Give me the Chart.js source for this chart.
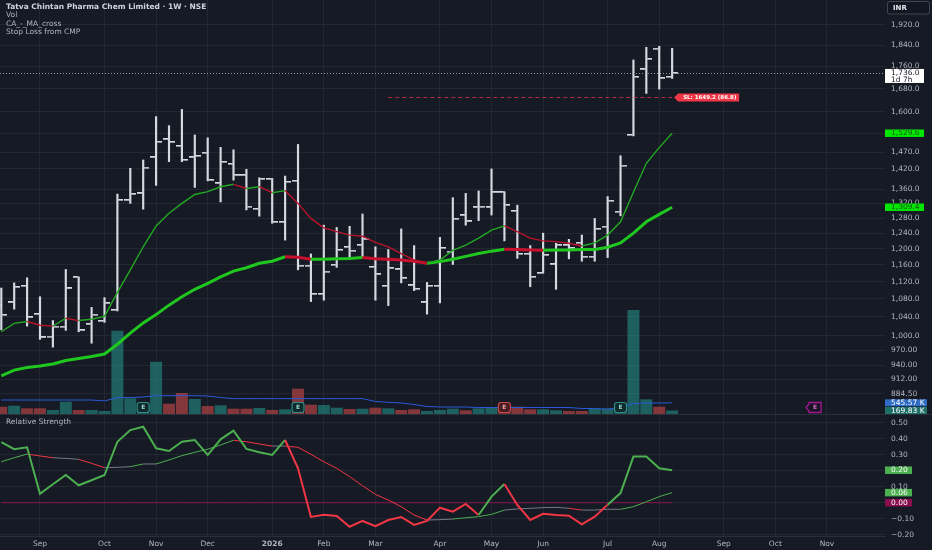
<!DOCTYPE html>
<html>
<head>
<meta charset="utf-8">
<script src="https://cdn.jsdelivr.net/npm/chart.js@4.4.1/dist/chart.umd.min.js"></script>
<style>
  html, body { margin: 0; padding: 0; background: #161a25; }
  #wrap { position: relative; width: 932px; height: 550px; overflow: hidden; background: #161a25; }
  canvas { position: absolute; left: 0; }
  #priceCanvas { top: 0; width: 932px; height: 415px; }
  #rsCanvas { top: 415px; width: 932px; height: 135px; }
  .legend { position: absolute; left: 6px; font: 7.5px "DejaVu Sans", sans-serif; color: #b2b5be; line-height: 8.3px; white-space: nowrap; }
  .legend .title { color: #d1d4dc; font-weight: bold; }
</style>
</head>
<body>
<div id="wrap">
  <canvas id="priceCanvas" width="932" height="415"></canvas>
  <canvas id="rsCanvas" width="932" height="135"></canvas>
  <div class="legend" style="top:3px">
    <div class="title">Tatva Chintan Pharma Chem Limited · 1W · NSE</div>
    <div>Vol</div>
    <div>CA_-_MA_cross</div>
    <div>Stop Loss from CMP</div>
  </div>
  <div class="legend" style="top:418px">Relative Strength</div>
</div>
<script>
// weekly bars, index 0 = week of 11 Aug 2025
const monthTickIndex = [3, 8, 12, 16, 21, 25, 29, 34, 38, 42, 47, 51, 56, 60, 64];
const monthTickText = ["Sep", "Oct", "Nov", "Dec", "2026", "Feb", "Mar", "Apr", "May", "Jun", "Jul", "Aug", "Sep", "Oct", "Nov"];

const priceOpen = [1066, 1072, 1110, 1046, 998, 1019, 1130, 1024, 1031, 1055, 1329, 1348, 1454, 1510, 1489, 1454, 1468, 1377, 1434, 1400, 1305, 1389, 1269, 1384, 1158, 1091, 1160, 1204, 1209, 1155, 1110, 1149, 1111, 1072, 1110, 1193, 1287, 1309, 1309, 1351, 1299, 1187, 1140, 1161, 1209, 1215, 1180, 1257, 1297, 1524, 1749, 1827, 1722];
const priceHigh = [1105, 1117, 1129, 1085, 1032, 1149, 1131, 1061, 1083, 1346, 1421, 1446, 1584, 1554, 1608, 1524, 1515, 1485, 1477, 1418, 1393, 1391, 1398, 1494, 1187, 1261, 1255, 1258, 1291, 1205, 1198, 1251, 1208, 1118, 1229, 1336, 1348, 1355, 1419, 1353, 1315, 1208, 1240, 1214, 1224, 1235, 1279, 1339, 1459, 1784, 1832, 1836, 1828];
const priceLow = [1012, 1057, 1020, 992, 976, 1011, 1008, 984, 1028, 1053, 1320, 1304, 1371, 1441, 1441, 1365, 1384, 1324, 1386, 1302, 1285, 1266, 1222, 1148, 1074, 1077, 1154, 1174, 1180, 1077, 1065, 1117, 1099, 1046, 1071, 1161, 1261, 1273, 1288, 1220, 1176, 1108, 1140, 1102, 1175, 1169, 1169, 1178, 1286, 1521, 1663, 1678, 1716];
const priceClose = [1044, 1107, 1039, 996, 1019, 1104, 1011, 1045, 1070, 1329, 1346, 1423, 1502, 1501, 1446, 1458, 1386, 1440, 1400, 1311, 1389, 1269, 1381, 1158, 1091, 1144, 1197, 1195, 1224, 1137, 1152, 1128, 1103, 1110, 1202, 1278, 1271, 1311, 1351, 1315, 1187, 1131, 1184, 1209, 1201, 1180, 1251, 1327, 1429, 1722, 1787, 1717, 1736];

// volume in thousands
const volumeK = [356, 405, 278, 278, 195, 600, 195, 195, 146, 4065, 766, 440, 2552, 503, 1025, 732, 390, 425, 259, 259, 293, 195, 229, 1235, 454, 439, 307, 244, 259, 307, 278, 195, 229, 146, 195, 259, 180, 278, 307, 464, 356, 229, 229, 180, 146, 146, 259, 278, 330, 5075, 717, 356, 169.83];
const volumeMaK = [683, 683, 683, 683, 683, 683, 683, 683, 640, 795, 805, 830, 893, 893, 893, 893, 878, 805, 750, 750, 750, 750, 750, 750, 750, 750, 750, 750, 750, 610, 571, 537, 464, 366, 342, 342, 342, 317, 317, 317, 317, 317, 317, 317, 317, 268, 268, 229, 342, 512, 537, 537, 545.57];

const fastMa = [1008, 1026, 1030, 1022, 1020, 1037, 1032, 1035, 1041, 1095, 1148, 1205, 1259, 1293, 1320, 1345, 1353, 1367, 1374, 1362, 1367, 1350, 1356, 1320, 1279, 1254, 1244, 1235, 1232, 1216, 1205, 1188, 1172, 1164, 1172, 1196, 1209, 1227, 1248, 1259, 1244, 1227, 1220, 1218, 1214, 1207, 1215, 1235, 1270, 1351, 1436, 1484, 1529.6];
const slowMa = [919, 930, 935, 938, 942, 949, 953, 957, 962, 982, 1005, 1027, 1045, 1066, 1085, 1102, 1116, 1131, 1145, 1153, 1164, 1169, 1180, 1179, 1174, 1174, 1175, 1176, 1178, 1175, 1174, 1172, 1169, 1164, 1168, 1174, 1181, 1188, 1194, 1199, 1198, 1197, 1196, 1197, 1197, 1198, 1198, 1204, 1215, 1240, 1270, 1290, 1309.4];

const rsValue = [0.378, 0.334, 0.346, 0.056, 0.115, 0.173, 0.109, 0.140, 0.173, 0.381, 0.454, 0.475, 0.340, 0.323, 0.381, 0.392, 0.298, 0.396, 0.450, 0.336, 0.315, 0.298, 0.392, 0.215, -0.089, -0.075, -0.083, -0.150, -0.114, -0.146, -0.108, -0.089, -0.139, -0.114, -0.031, -0.056, -0.008, -0.077, 0.038, 0.117, -0.014, -0.108, -0.069, -0.077, -0.081, -0.135, -0.087, -0.012, 0.060, 0.288, 0.288, 0.215, 0.203];
const rsSignal = [0.256, 0.281, 0.304, 0.292, 0.281, 0.277, 0.271, 0.246, 0.219, 0.221, 0.225, 0.242, 0.242, 0.267, 0.294, 0.315, 0.334, 0.361, 0.390, 0.381, 0.367, 0.354, 0.354, 0.346, 0.303, 0.256, 0.215, 0.163, 0.106, 0.052, 0.017, -0.025, -0.077, -0.108, -0.106, -0.102, -0.094, -0.087, -0.073, -0.046, -0.039, -0.035, -0.031, -0.029, -0.035, -0.046, -0.046, -0.041, -0.041, -0.025, 0.006, 0.038, 0.063];
const rsGreenSpans = [[0, 22], [37, 39], [47, 52]];

const priceTicks = [884.5, 912, 940, 970, 1000, 1040, 1080, 1120, 1160, 1200, 1240, 1280, 1320, 1360, 1420, 1470, 1530, 1600, 1680, 1760, 1840, 1920];
const rsTicks = [-0.2, -0.1, 0, 0.1, 0.2, 0.3, 0.4, 0.5];

const stopLoss = 1649.2;
const stopLossFrom = 30;
const earningsBars = [11, 23, 39, 48];
const earningsDown = [false, false, true, false];
const nextEarnings = 63;
const timeLeft = "1d 7h";

// ---- styles ----
const FONT = "'DejaVu Sans', sans-serif";
const textColor = "#b2b5be";
const gridColor = "rgba(42,46,57,0.65)";
const barColor = "#d6d9e0";
const xMin = -0.1;
const xMax = 68.5;
const axisWidth = 47;

const last = priceClose.length - 1;

function fmtPrice(v) {
  if (v >= 1000) {
    return v.toLocaleString("en-US", { minimumFractionDigits: 1, maximumFractionDigits: 1 });
  }
  return v.toFixed(2);
}
function fmtRs(v) {
  const s = Math.abs(v).toFixed(2);
  return v < -0.0001 ? "\u2212" + s : s;
}

// small tick images for open (left) and close (right)
function tickImage(side) {
  const c = document.createElement("canvas");
  c.width = 12;
  c.height = 2;
  const g = c.getContext("2d");
  g.fillStyle = barColor;
  if (side === "open") g.fillRect(0, 0, 5.3, 1.6);
  else g.fillRect(6.7, 0, 5.3, 1.6);
  return c;
}

function label(ctx, x, yc, w, h, bg, fg, text) {
  ctx.fillStyle = bg;
  ctx.fillRect(x, yc - h / 2, w, h);
  ctx.fillStyle = fg;
  ctx.textBaseline = "middle";
  ctx.textAlign = "left";
  ctx.fillText(text, x + 6, yc + 0.3);
}

function roundRect(ctx, x, y, w, h, r) {
  ctx.beginPath();
  ctx.moveTo(x + r, y);
  ctx.lineTo(x + w - r, y);
  ctx.quadraticCurveTo(x + w, y, x + w, y + r);
  ctx.lineTo(x + w, y + h - r);
  ctx.quadraticCurveTo(x + w, y + h, x + w - r, y + h);
  ctx.lineTo(x + r, y + h);
  ctx.quadraticCurveTo(x, y + h, x, y + h - r);
  ctx.lineTo(x, y + r);
  ctx.quadraticCurveTo(x, y, x + r, y);
  ctx.closePath();
}

const monthGrid = (s) => {
  s.ticks = monthTickIndex.map((v) => ({ value: v }));
};
// keep the plot area flush with the pane edges
const noPad = (s) => {
  s.paddingTop = 0;
  s.paddingBottom = 0;
  s.paddingLeft = 0;
  s.paddingRight = 0;
};

// ---- overlay for the price pane ----
const priceOverlay = {
  id: "priceOverlay",
  afterDatasetsDraw(chart) {
    const { ctx, chartArea: a, scales } = chart;
    const x = scales.x;
    const y = scales.price;
    ctx.save();

    // dotted line at last close
    const yc = Math.round(y.getPixelForValue(priceClose[last])) + 0.5;
    ctx.strokeStyle = "rgba(190,193,200,0.75)";
    ctx.lineWidth = 1;
    ctx.setLineDash([1, 2]);
    ctx.beginPath();
    ctx.moveTo(a.left, yc);
    ctx.lineTo(a.right, yc);
    ctx.stroke();

    // stop loss dashed line
    const ys = Math.round(y.getPixelForValue(stopLoss)) + 0.5;
    ctx.strokeStyle = "rgba(242,54,69,0.7)";
    ctx.setLineDash([4, 3]);
    ctx.beginPath();
    ctx.moveTo(x.getPixelForValue(stopLossFrom), ys);
    ctx.lineTo(x.getPixelForValue(last), ys);
    ctx.stroke();
    ctx.setLineDash([]);

    // stop loss tag
    const tx = x.getPixelForValue(last) + 2;
    ctx.fillStyle = "#f23645";
    ctx.beginPath();
    ctx.moveTo(tx, ys);
    ctx.lineTo(tx + 4, ys - 4);
    ctx.lineTo(tx + 65, ys - 4);
    ctx.lineTo(tx + 65, ys + 4);
    ctx.lineTo(tx + 4, ys + 4);
    ctx.closePath();
    ctx.fill();
    ctx.fillStyle = "#ffffff";
    ctx.font = "bold 5.5px " + FONT;
    ctx.textBaseline = "middle";
    ctx.fillText("SL: " + stopLoss.toFixed(1) + " (" + (priceClose[last] - stopLoss).toFixed(1) + ")", tx + 9, ys + 0.3);

    // earnings badges
    ctx.font = "bold 6px " + FONT;
    ctx.textAlign = "center";
    earningsBars.forEach((b, i) => {
      const cx = x.getPixelForValue(b);
      const edge = earningsDown[i] ? "#c9464b" : "#2d8f86";
      const fill = earningsDown[i] ? "#4a1d22" : "#102a2b";
      roundRect(ctx, cx - 6, 402.5, 12, 10, 2.5);
      ctx.fillStyle = fill;
      ctx.fill();
      ctx.strokeStyle = edge;
      ctx.lineWidth = 1.2;
      ctx.stroke();
      ctx.fillStyle = earningsDown[i] ? "#e8a0a3" : "#8fd3cb";
      ctx.fillText("E", cx, 407.8);
    });
    const ex = x.getPixelForValue(nextEarnings);
    ctx.beginPath();
    ctx.moveTo(ex - 8, 407.5);
    ctx.lineTo(ex - 5, 404);
    ctx.lineTo(ex - 5, 402.5);
    ctx.lineTo(ex + 7, 402.5);
    ctx.lineTo(ex + 7, 412.5);
    ctx.lineTo(ex - 5, 412.5);
    ctx.lineTo(ex - 5, 411);
    ctx.closePath();
    ctx.fillStyle = "#1c1426";
    ctx.fill();
    ctx.strokeStyle = "#a3188f";
    ctx.lineWidth = 1.3;
    ctx.stroke();
    ctx.fillStyle = "#d36ac2";
    ctx.fillText("E", ex + 1, 407.8);
    ctx.restore();
  },
  afterDraw(chart) {
    const { ctx, chartArea: a, scales } = chart;
    const y = scales.price;
    const v = scales.vol;
    const ax = a.right;
    ctx.save();
    ctx.font = "7.5px " + FONT;

    // pane separator
    ctx.fillStyle = "#2a2e39";
    ctx.fillRect(0, 414, chart.width, 1);

    // currency box
    roundRect(ctx, ax + 2.5, 1.5, 42, 12.5, 2);
    ctx.fillStyle = "#131722";
    ctx.fill();
    ctx.strokeStyle = "#434651";
    ctx.lineWidth = 1;
    ctx.stroke();
    ctx.fillStyle = "#e6e8ee";
    ctx.font = "bold 7px " + FONT;
    ctx.textBaseline = "middle";
    ctx.fillText("INR", ax + 8, 8);
    ctx.font = "7.5px " + FONT;

    // last price + countdown
    const yc = y.getPixelForValue(priceClose[last]);
    ctx.fillStyle = "#ffffff";
    ctx.fillRect(ax, yc - 4, 39, 14);
    ctx.fillStyle = "#131722";
    ctx.fillText(fmtPrice(priceClose[last]), ax + 6, yc + 0.3);
    ctx.fillText(timeLeft, ax + 6, yc + 6.8);

    // moving average values
    label(ctx, ax, y.getPixelForValue(fastMa[last]), 39, 7.5, "#00e600", "#175a17", fmtPrice(fastMa[last]));
    label(ctx, ax, y.getPixelForValue(slowMa[last]), 39, 7.5, "#00e600", "#175a17", fmtPrice(slowMa[last]));

    // volume values
    label(ctx, ax, v.getPixelForValue(volumeMaK[last]), 42, 7, "#2f6cc4", "#ffffff", volumeMaK[last].toFixed(2) + " K");
    label(ctx, ax, v.getPixelForValue(volumeK[last]), 42, 7, "#1f6f69", "#ffffff", volumeK[last].toFixed(2) + " K");
    ctx.restore();
  },
};

const rsOverlay = {
  id: "rsOverlay",
  afterDraw(chart) {
    const { ctx, chartArea: a, scales } = chart;
    const y = scales.y;
    ctx.save();
    ctx.font = "7.5px " + FONT;
    label(ctx, a.right, y.getPixelForValue(rsValue[last]), 27, 7.5, "#4caf50", "#ffffff", fmtRs(rsValue[last]));
    label(ctx, a.right, y.getPixelForValue(rsSignal[last]), 27, 7.5, "#4caf50", "#ffffff", fmtRs(rsSignal[last]));
    label(ctx, a.right, y.getPixelForValue(0), 27, 7.5, "#880e4f", "#ffffff", fmtRs(0));
    ctx.restore();
  },
};

// ---- price pane ----
const idx = priceClose.map((_, i) => i);
const upDown = idx.map((i) => priceClose[i] >= priceOpen[i]);

new Chart(document.getElementById("priceCanvas"), {
  type: "bar",
  data: {
    datasets: [
      {
        type: "line",
        label: "MA fast",
        data: idx.map((i) => ({ x: i, y: fastMa[i] })),
        yAxisID: "price",
        borderWidth: 1.4,
        pointRadius: 0,
        segment: { borderColor: (c) => (c.p1.parsed.y < c.p0.parsed.y ? "#b8142a" : "#22a822") },
        order: 1,
      },
      {
        type: "line",
        label: "MA slow",
        data: idx.map((i) => ({ x: i, y: slowMa[i] })),
        yAxisID: "price",
        borderWidth: 3,
        pointRadius: 0,
        segment: { borderColor: (c) => (c.p1.parsed.y < c.p0.parsed.y ? "#c8102e" : "#1fc71f") },
        order: 2,
      },
      {
        type: "line",
        label: "Close",
        data: idx.map((i) => ({ x: i, y: priceClose[i] })),
        yAxisID: "price",
        showLine: false,
        pointStyle: tickImage("close"),
        pointRadius: 3,
        order: 3,
      },
      {
        type: "line",
        label: "Open",
        data: idx.map((i) => ({ x: i, y: priceOpen[i] })),
        yAxisID: "price",
        showLine: false,
        pointStyle: tickImage("open"),
        pointRadius: 3,
        order: 4,
      },
      {
        type: "bar",
        label: "High-Low",
        data: idx.map((i) => ({ x: i, y: [priceLow[i], priceHigh[i]] })),
        yAxisID: "price",
        backgroundColor: barColor,
        barThickness: 1.5,
        grouped: false,
        order: 5,
      },
      {
        type: "line",
        label: "Vol MA",
        data: idx.map((i) => ({ x: i, y: volumeMaK[i] })),
        yAxisID: "vol",
        borderColor: "#2a5bd7",
        borderWidth: 1,
        pointRadius: 0,
        order: 6,
      },
      {
        type: "bar",
        label: "Vol",
        data: idx.map((i) => ({ x: i, y: volumeK[i] })),
        yAxisID: "vol",
        backgroundColor: upDown.map((u) => (u ? "rgba(38,166,154,0.5)" : "rgba(239,83,80,0.5)")),
        categoryPercentage: 1,
        barPercentage: 0.93,
        grouped: false,
        order: 7,
      },
    ],
  },
  options: {
    responsive: false,
    animation: false,
    events: [],
    layout: { padding: 0, autoPadding: false },
    plugins: { legend: { display: false }, tooltip: { enabled: false } },
    scales: {
      x: {
        type: "linear",
        min: xMin,
        max: xMax,
        offset: false,
        afterBuildTicks: monthGrid,
        afterFit: (s) => { s.height = 1; noPad(s); },
        ticks: { display: false },
        grid: { color: gridColor, drawTicks: false, offset: false },
        border: { display: false },
      },
      price: {
        type: "logarithmic",
        position: "right",
        bounds: "data",
        min: 848.1,
        max: 2023.5,
        afterBuildTicks: (s) => { s.ticks = priceTicks.map((v) => ({ value: v })); },
        afterFit: (s) => { s.width = axisWidth; noPad(s); },
        ticks: { callback: (v) => fmtPrice(v), color: textColor, font: { family: FONT, size: 7.5 }, padding: 6, autoSkip: false },
        grid: { color: gridColor, drawTicks: false },
        border: { display: false },
      },
      vol: {
        type: "linear",
        display: false,
        min: 0,
        max: 414 * 48.8,
      },
    },
  },
  plugins: [priceOverlay],
});

// ---- relative strength pane ----
const inGreen = (i) => rsGreenSpans.some(([s, e]) => i >= s && i < e);

new Chart(document.getElementById("rsCanvas"), {
  type: "line",
  data: {
    datasets: [
      {
        label: "RS",
        data: idx.map((i) => ({ x: i, y: rsValue[i] })),
        borderWidth: 2,
        pointRadius: 0,
        segment: { borderColor: (c) => (inGreen(c.p0.parsed.x) ? "#4caf50" : "#f23645") },
        order: 1,
      },
      {
        label: "Signal",
        data: idx.map((i) => ({ x: i, y: rsSignal[i] })),
        borderWidth: 1,
        pointRadius: 0,
        segment: {
          borderColor: (c) => {
            const d = c.p1.parsed.y - c.p0.parsed.y;
            if (d > 0.007) return "#4caf50";
            if (d < -0.007) return "#f23645";
            return "#787b86";
          },
        },
        order: 2,
      },
      {
        label: "Zero",
        data: idx.map((i) => ({ x: i, y: 0 })),
        borderColor: "#8c1450",
        borderWidth: 1,
        pointRadius: 0,
        order: 3,
      },
    ],
  },
  options: {
    responsive: false,
    animation: false,
    events: [],
    layout: { padding: 0, autoPadding: false },
    plugins: { legend: { display: false }, tooltip: { enabled: false } },
    scales: {
      x: {
        type: "linear",
        min: xMin,
        max: xMax,
        afterBuildTicks: monthGrid,
        afterFit: (s) => { s.height = 14; noPad(s); },
        ticks: {
          callback: (v) => monthTickText[monthTickIndex.indexOf(v)],
          color: textColor,
          font: (c) => ({ family: FONT, size: 7.5, weight: c.tick && c.tick.label === "2026" ? "bold" : "normal" }),
          padding: 4,
          maxRotation: 0,
          autoSkip: false,
        },
        grid: { color: gridColor, drawTicks: false },
        border: { display: true, color: "#2a2e39" },
      },
      y: {
        position: "right",
        min: -0.208,
        max: 0.548,
        afterBuildTicks: (s) => { s.ticks = rsTicks.map((v) => ({ value: v })); },
        afterFit: (s) => { s.width = axisWidth; noPad(s); },
        ticks: { callback: (v) => fmtRs(v), color: textColor, font: { family: FONT, size: 7.5 }, padding: 6, autoSkip: false },
        grid: { color: gridColor, drawTicks: false },
        border: { display: false },
      },
    },
  },
  plugins: [rsOverlay],
});
</script>
</body>
</html>
